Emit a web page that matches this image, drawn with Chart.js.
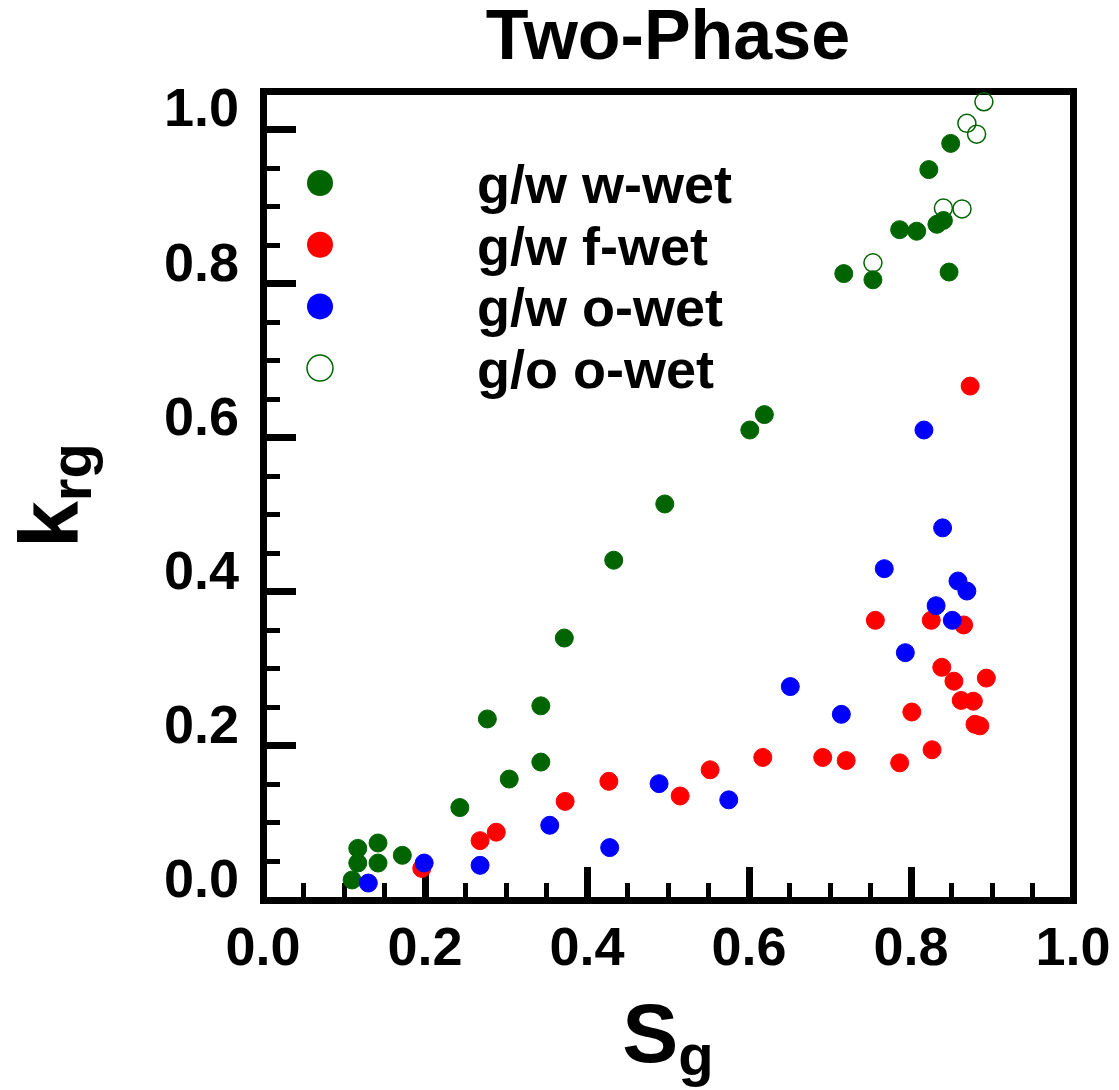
<!DOCTYPE html>
<html>
<head>
<meta charset="utf-8">
<script src="https://cdn.jsdelivr.net/npm/chart.js@4.4.1/dist/chart.umd.min.js"></script>
<style>
  html, body { margin: 0; padding: 0; background: #fff; }
  #wrap { width: 1119px; height: 1090px; }
</style>
</head>
<body>
<div id="wrap"><canvas id="chart" width="1119" height="1090"></canvas></div>
<script>
// values: Sg (x) and krg (y) per series
const wwetSg  = [0.110, 0.117, 0.117, 0.142, 0.142, 0.172, 0.243, 0.277, 0.304, 0.343, 0.343, 0.372, 0.433,
                 0.496, 0.601, 0.619, 0.717, 0.753, 0.786, 0.807, 0.832, 0.840, 0.847, 0.822, 0.849];
const wwetKrg = [0.026, 0.048, 0.067, 0.048, 0.074, 0.058, 0.120, 0.235, 0.157, 0.179, 0.252, 0.340, 0.441,
                 0.514, 0.610, 0.630, 0.813, 0.805, 0.870, 0.868, 0.877, 0.882, 0.815, 0.948, 0.982];

const fwetSg  = [0.196, 0.268, 0.288, 0.373, 0.427, 0.515, 0.552, 0.617, 0.691, 0.720, 0.786, 0.826,
                 0.801, 0.756, 0.825, 0.865, 0.838, 0.853, 0.862, 0.877, 0.879, 0.885, 0.893, 0.873];
const fwetKrg = [0.041, 0.077, 0.088, 0.128, 0.154, 0.135, 0.169, 0.185, 0.185, 0.181, 0.178, 0.195,
                 0.244, 0.363, 0.363, 0.357, 0.302, 0.284, 0.259, 0.258, 0.228, 0.226, 0.288, 0.667];

const owetSg  = [0.130, 0.199, 0.268, 0.354, 0.428, 0.489, 0.575, 0.651, 0.714, 0.793, 0.767, 0.831,
                 0.851, 0.858, 0.869, 0.839, 0.816];
const owetKrg = [0.022, 0.048, 0.045, 0.097, 0.068, 0.151, 0.130, 0.277, 0.241, 0.321, 0.430, 0.382,
                 0.363, 0.414, 0.401, 0.483, 0.610];

const goSg  = [0.753, 0.840, 0.863, 0.869, 0.881, 0.890];
const goKrg = [0.827, 0.898, 0.897, 1.008, 0.994, 1.036];

const seriesLabels = ['g/w w-wet', 'g/w f-wet', 'g/w o-wet', 'g/o o-wet'];
const xTicks = [0, 0.2, 0.4, 0.6, 0.8, 1.0];

const FONT = "'Liberation Sans', Arial, Helvetica, sans-serif";
const GREEN = '#006400';
const RED = '#ff0000';
const BLUE = '#0000ff';
const NONE = 'rgba(0,0,0,0)';

Chart.defaults.font.family = FONT;
Chart.defaults.color = '#000';

const toPoints = (xs, ys) => xs.map((x, i) => ({ x: x, y: ys[i] }));

// legend + subscripted axis titles
const annotate = {
  id: 'annotate',
  afterDraw(chart) {
    const ctx = chart.ctx;
    const a = chart.chartArea;
    ctx.save();
    chart.data.datasets.forEach((ds, i) => {
      const cx = a.left + 57;
      const cy = a.top + 92 + i * 61.7;
      ctx.beginPath();
      ctx.arc(cx, cy, 13, 0, Math.PI * 2);
      if (ds.backgroundColor === NONE) {
        ctx.lineWidth = 1.5;
        ctx.strokeStyle = ds.borderColor;
        ctx.stroke();
      } else {
        ctx.fillStyle = ds.backgroundColor;
        ctx.fill();
      }
      ctx.fillStyle = '#000';
      ctx.font = 'bold 54px ' + FONT;
      ctx.textAlign = 'left';
      ctx.textBaseline = 'alphabetic';
      ctx.fillText(ds.label, a.left + 214, cy + 20);
    });

    function subText(main, sub, cx, base) {
      ctx.font = 'bold 84px ' + FONT;
      const w1 = ctx.measureText(main).width;
      ctx.font = 'bold 58px ' + FONT;
      const w2 = ctx.measureText(sub).width;
      const x0 = cx - (w1 + w2) / 2;
      ctx.font = 'bold 84px ' + FONT;
      ctx.fillText(main, x0, base);
      ctx.font = 'bold 58px ' + FONT;
      ctx.fillText(sub, x0 + w1, base + 13);
    }
    ctx.fillStyle = '#000';
    ctx.textAlign = 'left';
    ctx.textBaseline = 'alphabetic';
    subText('S', 'g', (a.left + a.right) / 2, 1062);

    ctx.translate(78, (a.top + a.bottom) / 2);
    ctx.rotate(-Math.PI / 2);
    subText('k', 'rg', 0, 0);
    ctx.restore();
  }
};

const tickFont = { size: 54, weight: 'bold', lineHeight: 1.2 };
const noPad = s => { s.paddingLeft = 0; s.paddingRight = 0; s.paddingTop = 0; s.paddingBottom = 0; };

new Chart('chart', {
  type: 'scatter',
  data: {
    datasets: [
      { label: seriesLabels[0], data: toPoints(wwetSg, wwetKrg), backgroundColor: GREEN, borderColor: GREEN,
        pointRadius: 9, borderWidth: 1, order: 2, clip: false },
      { label: seriesLabels[1], data: toPoints(fwetSg, fwetKrg), backgroundColor: RED, borderColor: RED,
        pointRadius: 9, borderWidth: 1, order: 1, clip: false },
      { label: seriesLabels[2], data: toPoints(owetSg, owetKrg), backgroundColor: BLUE, borderColor: BLUE,
        pointRadius: 9, borderWidth: 1, order: 0, clip: false },
      { label: seriesLabels[3], data: toPoints(goSg, goKrg), backgroundColor: NONE, borderColor: GREEN,
        pointRadius: 9, borderWidth: 1.5, order: 3, clip: false }
    ]
  },
  options: {
    responsive: false,
    animation: false,
    layout: { padding: 0 },
    plugins: {
      legend: { display: false },
      tooltip: { enabled: false },
      title: {
        display: true,
        text: 'Two-Phase',
        fullSize: false,
        color: '#000',
        font: { size: 70, weight: 'bold', lineHeight: 1 },
        padding: { top: 5, bottom: 16 }
      }
    },
    scales: {
      x: {
        type: 'linear', position: 'bottom', weight: 1, min: 0, max: 1,
        afterBuildTicks: s => { s.ticks = xTicks.map(v => ({ value: v })); },
        ticks: { padding: 51, font: tickFont, maxRotation: 0, autoSkip: false, callback: v => v.toFixed(1) },
        grid: { drawOnChartArea: false, tickLength: -33, tickWidth: 7, tickColor: '#000' },
        border: { display: true, width: 7, color: '#000' },
        afterFit: s => { s.height = 190; noPad(s); }
      },
      xMinor: {
        type: 'linear', position: 'bottom', weight: 0, min: 0, max: 1,
        ticks: { display: false, stepSize: 0.05, includeBounds: false },
        grid: { drawOnChartArea: false, tickLength: -17, tickWidth: 5, tickColor: '#000' },
        border: { display: false },
        afterFit: s => { s.height = 0; noPad(s); }
      },
      y: {
        type: 'linear', position: 'left', weight: 1, min: 0, max: 1.05,
        ticks: { stepSize: 0.2, includeBounds: false, padding: 57, labelOffset: -18, font: tickFont,
                 callback: v => v.toFixed(1) },
        grid: { drawOnChartArea: false, tickLength: -33, tickWidth: 7, tickColor: '#000' },
        border: { display: true, width: 7, color: '#000' },
        afterFit: s => { s.width = 263; noPad(s); }
      },
      yMinor: {
        type: 'linear', position: 'left', weight: 0, min: 0, max: 1.05,
        ticks: { display: false, stepSize: 0.05, includeBounds: false },
        grid: { drawOnChartArea: false, tickLength: -17, tickWidth: 5, tickColor: '#000' },
        border: { display: false },
        afterFit: s => { s.width = 0; noPad(s); }
      },
      x2: {
        type: 'linear', position: 'top', min: 0, max: 1,
        ticks: { display: false },
        grid: { display: false },
        border: { display: true, width: 7, color: '#000' },
        afterFit: s => { s.height = 0; noPad(s); }
      },
      y2: {
        type: 'linear', position: 'right', min: 0, max: 1.05,
        ticks: { display: false },
        grid: { display: false },
        border: { display: true, width: 7, color: '#000' },
        afterFit: s => { s.width = 46; noPad(s); }
      }
    }
  },
  plugins: [annotate]
});
</script>
</body>
</html>
